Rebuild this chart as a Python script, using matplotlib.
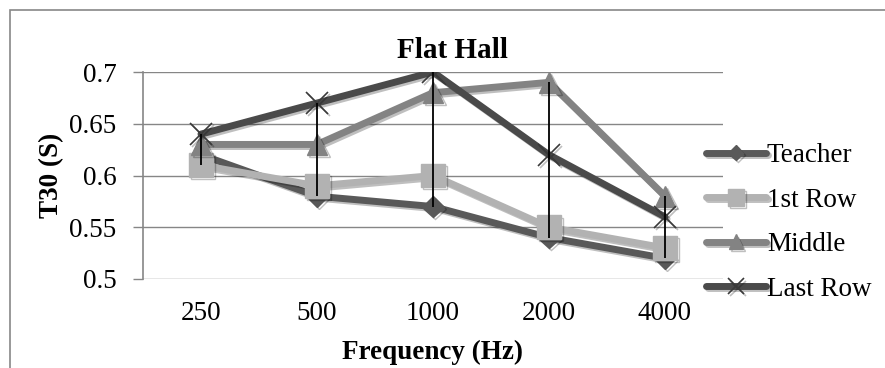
import matplotlib
matplotlib.use("Agg")
import matplotlib.pyplot as plt
import matplotlib.patheffects as pe
from matplotlib.patches import Rectangle
import numpy as np

categories = ["250", "500", "1000", "2000", "4000"]
teacher = [0.62, 0.58, 0.57, 0.54, 0.52]
first_row = [0.61, 0.59, 0.60, 0.55, 0.53]
middle = [0.63, 0.63, 0.68, 0.69, 0.58]
last_row = [0.64, 0.67, 0.70, 0.62, 0.56]
series_names = ["Teacher", "1st Row", "Middle", "Last Row"]
yticks = [0.5, 0.55, 0.6, 0.65, 0.7]
ytick_labels = ["0.5", "0.55", "0.6", "0.65", "0.7"]

plt.rcParams['font.family'] = ['Liberation Serif', 'DejaVu Serif']
FS = 19.5

fig = plt.figure(figsize=(8.85, 3.68), dpi=100)
ax = fig.add_axes([143/885, 1-279/368, 580/885, (279-72)/368])

x = np.arange(len(categories))
shadow = [pe.SimpleLineShadow(offset=(1.5, -1.5), alpha=0.25, shadow_color='black'), pe.Normal()]

styles = [
    (teacher, '#595959', 'D', 11, '#595959', 1),
    (first_row, '#b2b2b2', 's', 17, '#b2b2b2', 1),
    (middle, '#838383', '^', 15, '#838383', 1),
    (last_row, '#4a4a4a', 'x', 16, '#3a3a3a', 1.2),
]
for (vals, col, mk, ms, mec, mew), name in zip(styles, series_names):
    ax.plot(x, vals, color=col, lw=5, marker=mk, markersize=ms,
            markerfacecolor=col, markeredgecolor=mec, markeredgewidth=mew,
            label=name, solid_joinstyle='round', solid_capstyle='round',
            path_effects=shadow, zorder=3)

allv = np.array([teacher, first_row, middle, last_row])
ax.vlines(x, allv.min(axis=0), allv.max(axis=0), color='black', lw=1.3, zorder=5)

ax.set_xlim(-0.5, len(categories) - 0.5)
ax.set_ylim(0.5, 0.7)
ax.set_yticks(yticks)
ax.set_yticklabels(ytick_labels, fontsize=FS)
ax.set_xticks(x)
ax.set_xticklabels(categories, fontsize=FS)
ax.tick_params(axis='x', length=0, pad=16)
ax.tick_params(axis='y', length=7, width=1, color='#868686', pad=12)
ax.grid(axis='y', color='#868686', lw=1, zorder=0)
for s in ['top', 'right', 'bottom']:
    ax.spines[s].set_visible(False)
ax.spines['left'].set_color('#868686')
ax.spines['left'].set_linewidth(1.2)

fig.text(433/885, 1-352/368, "Frequency (Hz)", fontsize=FS, fontweight='bold',
         ha='center', va='center')
fig.text(52/885, 1-175/368, "T30 (S)", fontsize=FS, fontweight='bold',
         ha='center', va='center', rotation=90)

fig.text(452/885, 1-51/368, "Flat Hall", fontsize=21, fontweight='bold',
         ha='center', va='center')

leg = ax.legend(loc='center left', bbox_to_anchor=((706-143)/580, (279-222.5)/207),
                frameon=False, fontsize=FS, handlelength=2.2, handletextpad=0.05,
                labelspacing=0.72, borderaxespad=0, borderpad=0, markerscale=0.7)

fig.patches.append(Rectangle((10/885, -0.1), 1.0, 1-10/368+0.1, transform=fig.transFigure,
                             fill=False, edgecolor='#888888', lw=1.2))

fig.savefig("out.png", dpi=100)
